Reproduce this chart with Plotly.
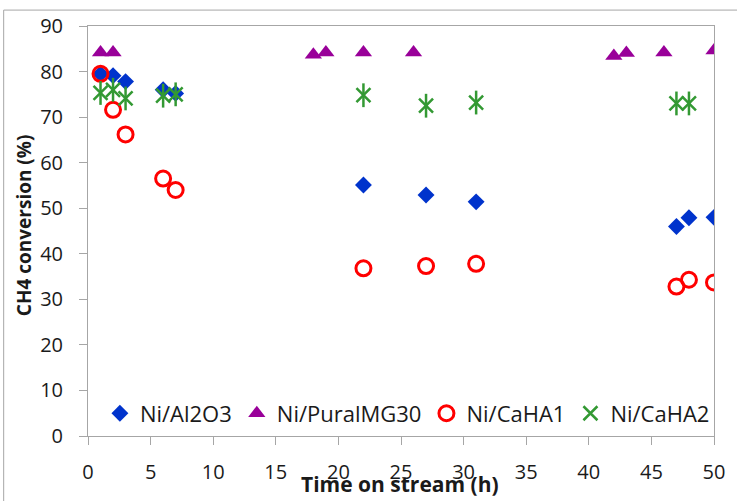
import plotly.graph_objects as go

# Data
al2o3_x = [1, 2, 3, 6, 7, 22, 27, 31, 47, 48, 50]
al2o3_y = [79.5, 79.1, 77.8, 76.0, 75.2, 55.1, 52.9, 51.4, 46.0, 47.9, 48.0]

pural_x = [1, 2, 18, 19, 22, 26, 42, 43, 46, 50]
pural_y = [84.2, 84.2, 83.7, 84.2, 84.2, 84.2, 83.4, 84.1, 84.2, 84.6]

caha1_x = [1, 2, 3, 6, 7, 22, 27, 31, 47, 48, 50]
caha1_y = [79.5, 71.6, 66.2, 56.5, 54.0, 36.8, 37.3, 37.8, 32.8, 34.3, 33.7]

caha2_x = [1, 2, 3, 6, 7, 22, 27, 31, 47, 48]
caha2_y = [75.3, 76.0, 74.1, 74.7, 75.0, 74.8, 72.5, 73.2, 73.0, 73.0]

x_ticks = [0, 5, 10, 15, 20, 25, 30, 35, 40, 45, 50]
y_ticks = [0, 10, 20, 30, 40, 50, 60, 70, 80, 90]

FONT = "Open Sans"
TXT = "#1a1a1a"
AX = "#a6a6a6"

fig = go.Figure()
fig.add_trace(go.Scatter(
    x=al2o3_x, y=al2o3_y, mode="markers", name="Ni/Al2O3",
    marker=dict(symbol="diamond", size=13, color="#0033cc", line=dict(width=0)),
))
fig.add_trace(go.Scatter(
    x=pural_x, y=pural_y, mode="markers", name="Ni/PuralMG30",
    marker=dict(symbol="triangle-up", size=15, color="#990099", line=dict(width=0)),
))
fig.add_trace(go.Scatter(
    x=caha1_x, y=caha1_y, mode="markers", name="Ni/CaHA1",
    marker=dict(symbol="circle-open", size=15, color="#ff0000", line=dict(width=3, color="#ff0000")),
))
fig.add_trace(go.Scatter(
    x=caha2_x, y=caha2_y, mode="markers", name="Ni/CaHA2", legendgroup="c2",
    marker=dict(symbol="x-thin-open", size=14, color="#339933", line=dict(width=2.5, color="#339933")),
))
fig.add_trace(go.Scatter(
    x=caha2_x, y=caha2_y, mode="markers", name="Ni/CaHA2", legendgroup="c2", showlegend=False,
    marker=dict(symbol="line-ns-open", size=17, color="#339933", line=dict(width=2.5, color="#339933")),
))

fig.update_layout(
    width=737, height=501, autosize=False,
    margin=dict(l=88, r=18, t=24, b=65),
    paper_bgcolor="white", plot_bgcolor="white",
    font=dict(family=FONT, color=TXT, size=20),
    showlegend=True,
    legend=dict(
        orientation="h", x=0.019, y=0.055, xanchor="left", yanchor="middle",
        bgcolor="rgba(0,0,0,0)", font=dict(family=FONT, size=22, color=TXT),
        itemsizing="trace",
    ),
    xaxis=dict(
        range=[0, 50], tickvals=x_ticks, ticktext=[str(v) for v in x_ticks],
        showgrid=False, zeroline=False, showline=True, linecolor=AX, linewidth=1,
        mirror=True, ticks="outside", ticklen=8, tickcolor=AX, tickwidth=1,
        ticklabelstandoff=10, tickfont=dict(family=FONT, size=20, color=TXT),
    ),
    yaxis=dict(
        range=[0, 90], tickvals=y_ticks, ticktext=[str(v) for v in y_ticks],
        showgrid=False, zeroline=False, showline=True, linecolor=AX, linewidth=1,
        mirror=True, ticks="outside", ticklen=8, tickcolor=AX, tickwidth=1,
        ticklabelstandoff=12, tickfont=dict(family=FONT, size=20, color=TXT),
    ),
    annotations=[
        dict(text="<b>CH4 conversion (%)</b>", xref="paper", yref="paper",
             x=-0.103, y=0.513, textangle=-90, showarrow=False,
             xanchor="center", yanchor="middle",
             font=dict(family=FONT, size=19, color=TXT)),
        dict(text="<b>Time on stream (h)</b>", xref="paper", yref="paper",
             x=0.499, y=-0.118, showarrow=False,
             xanchor="center", yanchor="middle",
             font=dict(family=FONT, size=21, color=TXT)),
    ],
    shapes=[
        # outer chart-area border (left and top edges visible)
        dict(type="rect", xref="paper", yref="paper", layer="above",
             x0=-0.1347, x1=1.05, y0=-0.17, y1=1.0388,
             line=dict(color="#a6a6a6", width=1), fillcolor="rgba(0,0,0,0)"),
    ],
)

fig.write_html("out.html", config={"displayModeBar": False},
               post_script="document.body.style.margin='0';")
